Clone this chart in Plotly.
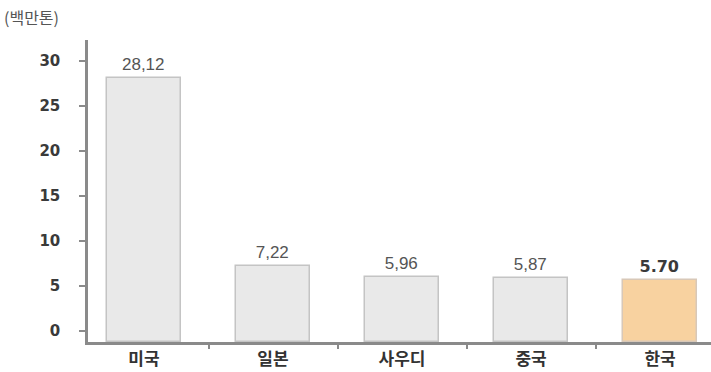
import plotly.graph_objects as go

categories = ["미국", "일본", "사우디", "중국", "한국"]
values = [28.12, 7.22, 5.96, 5.87, 5.70]
label_texts = ["28,12", "7,22", "5,96", "5,87", "5.70"]
y_ticks = [0, 5, 10, 15, 20, 25, 30]

y_min, y_max = -1.22, 32.3
bar_colors = ["#e9e9e9", "#e9e9e9", "#e9e9e9", "#e9e9e9", "#f8d2a0"]
line_colors = ["#c4c4c4", "#c4c4c4", "#c4c4c4", "#c4c4c4", "#d8c8b8"]
text_colors = ["#555555"] * 4 + ["#3a3a3a"]
text_fonts = ["Liberation Sans"] * 4 + ["DejaVu Sans"]
text_sizes = [17, 17, 17, 17, 16]

fig = go.Figure()
fig.add_trace(go.Bar(
    x=categories,
    y=[v - y_min for v in values],
    base=y_min,
    width=0.58,
    marker=dict(color=bar_colors, line=dict(color=line_colors, width=1.5)),
    text=[f"<b>{t}</b>" if i == 4 else t for i, t in enumerate(label_texts)],
    textposition="outside",
    textfont=dict(size=text_sizes, color=text_colors, family=text_fonts),
    cliponaxis=False,
    hoverinfo="skip",
))

fig.update_layout(
    width=711, height=372,
    margin=dict(l=88, r=0, t=40, b=30),
    paper_bgcolor="white", plot_bgcolor="white",
    showlegend=False,
    title=dict(text="(백만톤)", x=4/711, xref="container", xanchor="left",
               y=1 - 18/372, yref="container", yanchor="middle",
               font=dict(size=16, color="#555555", family="Noto Sans CJK KR")),
    bargap=0,
)
fig.update_xaxes(
    type="category",
    range=[-0.434, 4.395],
    tickvals=categories,
    ticktext=[f"<b>{c}</b>" for c in categories],
    showline=True, linecolor="#8a8a8a", linewidth=2.5,
    ticks="outside", tickson="boundaries", ticklen=4, tickcolor="#8a8a8a", tickwidth=2,
    tickfont=dict(size=17, color="#333333", family="Noto Sans CJK KR"),
    showgrid=False, zeroline=False,
)
fig.update_yaxes(
    range=[y_min, y_max],
    tickvals=y_ticks,
    ticktext=[f"<b>{t}</b>" for t in y_ticks],
    showline=True, linecolor="#8a8a8a", linewidth=2.5,
    ticks="outside", ticklen=6, tickcolor="#8a8a8a", tickwidth=2,
    tickfont=dict(size=15, color="#3a3a3a", family="DejaVu Sans"),
    ticklabelstandoff=16,
    showgrid=False, zeroline=False,
)

fig.write_html("out.html")
